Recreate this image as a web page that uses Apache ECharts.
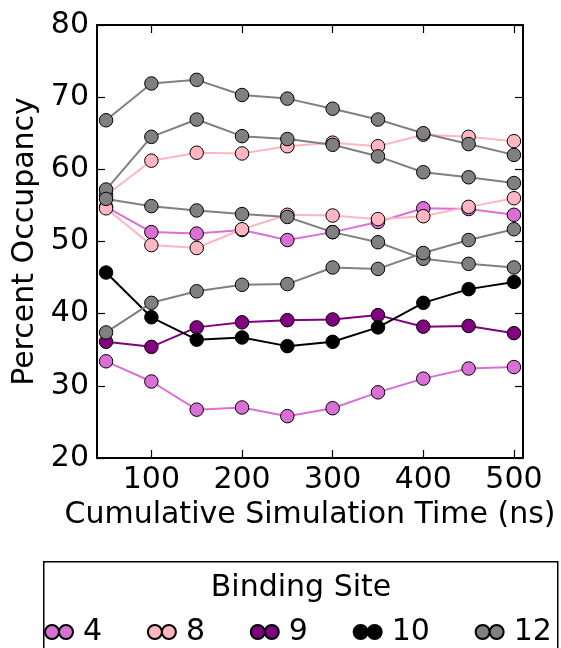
<!DOCTYPE html>
<html>
<head>
<meta charset="utf-8">
<script src="https://cdn.jsdelivr.net/npm/echarts@6/dist/echarts.min.js"></script>
<style>
  html, body { margin: 0; padding: 0; background: #fff; }
  #chart { width: 561px; height: 648px; }
</style>
</head>
<body>
<div id="chart"></div>
<script>
// Cumulative simulation time (ns) at which occupancy was sampled
const times = [50, 100, 150, 200, 250, 300, 350, 400, 450, 500];
const xTicks = [100, 200, 300, 400, 500];

// Percent occupancy per binding site (several runs per site)
const site4a  = [33.4, 30.6, 26.7, 27.0, 25.8, 26.9, 29.1, 31.0, 32.4, 32.6];
const site4b  = [54.8, 51.3, 51.1, 51.6, 50.2, 51.3, 52.7, 54.6, 54.5, 53.7];
const site8a  = [56.4, 61.2, 62.3, 62.2, 63.2, 63.7, 63.2, 64.8, 64.5, 63.9];
const site8b  = [54.6, 49.5, 49.1, 51.7, 53.7, 53.6, 53.1, 53.5, 54.8, 56.0];
const site9   = [36.1, 35.4, 38.1, 38.8, 39.1, 39.2, 39.8, 38.2, 38.3, 37.3];
const site10  = [45.7, 39.5, 36.4, 36.7, 35.5, 36.1, 38.1, 41.5, 43.4, 44.4];
const site12a = [66.8, 71.9, 72.4, 70.3, 69.8, 68.4, 66.9, 65.0, 63.5, 62.0];
const site12b = [57.2, 64.5, 66.9, 64.6, 64.2, 63.4, 61.8, 59.6, 58.9, 58.1];
const site12c = [55.9, 54.9, 54.3, 53.8, 53.4, 51.3, 49.9, 47.6, 46.9, 46.4];
const site12d = [37.4, 41.5, 43.1, 44.0, 44.1, 46.4, 46.2, 48.4, 50.2, 51.7];

const siteNames = ['4', '8', '9', '10', '12'];
const siteColors = {'4': '#da70d6', '8': '#ffb6c1', '9': '#800080', '10': '#000000', '12': '#808080'};

const runs = [
  ['4', site4a], ['4', site4b],
  ['8', site8a], ['8', site8b],
  ['9', site9],
  ['10', site10],
  ['12', site12a], ['12', site12b], ['12', site12c], ['12', site12d]
];

const FONT = 'DejaVu Sans';
const FS = 30;

const series = runs.map(([name, vals]) => ({
  name: name,
  type: 'line',
  data: times.map((t, i) => [t, vals[i]]),
  symbol: 'circle',
  symbolSize: 13.5,
  showSymbol: true,
  lineStyle: { color: siteColors[name], width: 2 },
  itemStyle: { color: siteColors[name], borderColor: '#000', borderWidth: 1 },
  emphasis: { disabled: true },
  xAxisIndex: 0,
  yAxisIndex: 0
}));

const chart = echarts.init(document.getElementById('chart'), null, { renderer: 'canvas' });

const axisLineStyle = { color: '#000', width: 2 };
const tickStyle = { color: '#000', width: 1.2 };

chart.setOption({
  animation: false,
  backgroundColor: '#fff',
  textStyle: { fontFamily: FONT },
  grid: { left: 97, right: 38, top: 25, bottom: 190, containLabel: false },
  xAxis: [
    {
      type: 'value', position: 'bottom', min: 40, max: 510,
      name: 'Cumulative Simulation Time (ns)', nameLocation: 'middle', nameGap: 36,
      nameTextStyle: { fontFamily: FONT, fontSize: FS, color: '#000' },
      axisLine: { show: true, lineStyle: axisLineStyle },
      axisTick: { show: true, inside: true, length: 8, lineStyle: tickStyle, customValues: xTicks },
      axisLabel: { show: true, fontFamily: FONT, fontSize: FS, color: '#000', margin: 7, customValues: xTicks },
      splitLine: { show: false }
    },
    {
      type: 'value', position: 'top', min: 40, max: 510,
      axisLine: { show: true, lineStyle: axisLineStyle },
      axisTick: { show: true, inside: true, length: 8, lineStyle: tickStyle, customValues: xTicks },
      axisLabel: { show: false },
      splitLine: { show: false }
    }
  ],
  yAxis: [
    {
      type: 'value', position: 'left', min: 20, max: 80, interval: 10,
      name: 'Percent Occupancy', nameLocation: 'middle', nameGap: 56,
      nameTextStyle: { fontFamily: FONT, fontSize: FS, color: '#000' },
      axisLine: { show: true, lineStyle: axisLineStyle },
      axisTick: { show: true, inside: true, length: 8, lineStyle: tickStyle },
      axisLabel: { show: true, fontFamily: FONT, fontSize: FS, color: '#000', margin: 8 },
      splitLine: { show: false }
    },
    {
      type: 'value', position: 'right', min: 20, max: 80, interval: 10,
      axisLine: { show: true, lineStyle: axisLineStyle },
      axisTick: { show: true, inside: true, length: 8, lineStyle: tickStyle },
      axisLabel: { show: false },
      splitLine: { show: false }
    }
  ],
  legend: {
    data: siteNames,
    orient: 'horizontal',
    left: 44,
    top: 617,
    width: 540,
    itemWidth: 28,
    itemHeight: 14,
    itemGap: 44.8,
    padding: 0,
    icon: 'path://M0,7a7,7 0 1,0 14,0a7,7 0 1,0 -14,0ZM14,7a7,7 0 1,0 14,0a7,7 0 1,0 -14,0Z',
    textStyle: { fontFamily: FONT, fontSize: FS, color: '#000', padding: [0, 0, 0, 5] },
    selectedMode: false,
    z: 10
  },
  graphic: [
    {
      type: 'rect', left: 43, top: 561, z: 5,
      shape: { width: 514, height: 110 },
      style: { fill: '#fff', stroke: '#000', lineWidth: 1.5 }
    },
    {
      type: 'text', z: 6,
      x: 301, y: 588,
      style: { text: 'Binding Site', fontFamily: FONT, fontSize: FS, fill: '#000', align: 'center', verticalAlign: 'middle' }
    }
  ],
  series: series
});
</script>
</body>
</html>
